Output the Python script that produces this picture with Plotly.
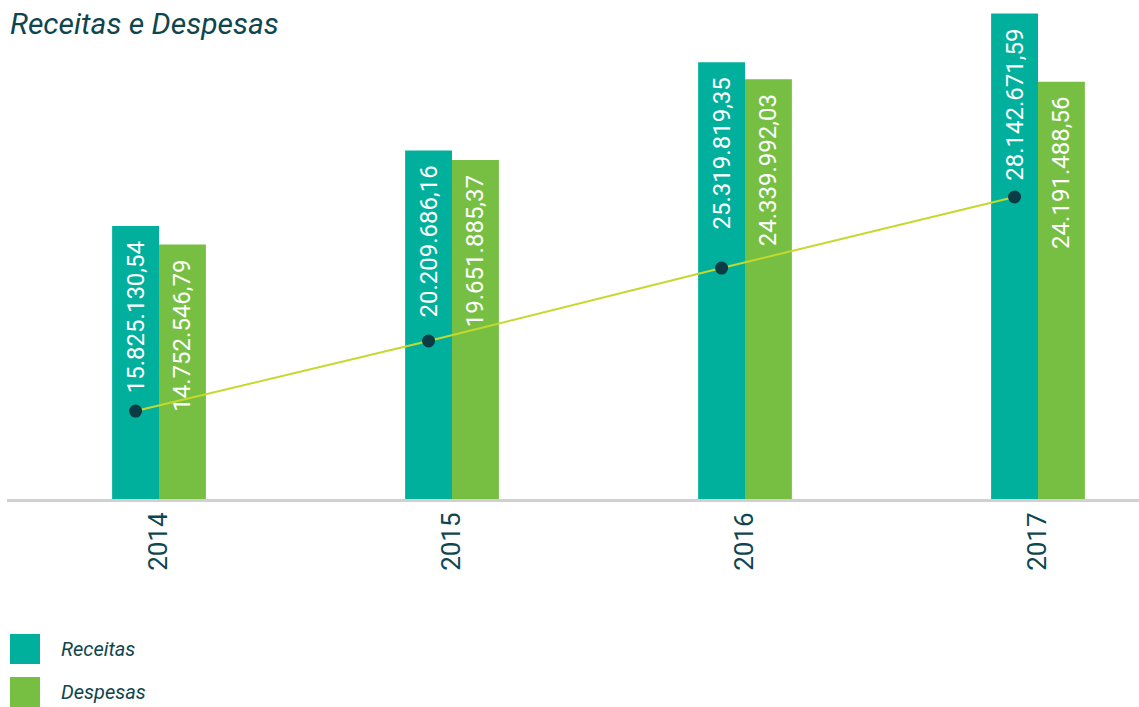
import plotly.graph_objects as go

anos = ["2014", "2015", "2016", "2017"]
receitas = [15825130.54, 20209686.16, 25319819.35, 28142671.59]
despesas = [14752546.79, 19651885.37, 24339992.03, 24191488.56]
receitas_txt = ["15.825.130,54", "20.209.686,16", "25.319.819,35", "28.142.671,59"]
despesas_txt = ["14.752.546,79", "19.651.885,37", "24.339.992,03", "24.191.488,56"]
linha = [5100000, 9160000, 13390000, 17510000]

C_REC = "#00AF9C"
C_DES = "#77BF43"
C_LINE = "#C5D82D"
C_DOT = "#0B3B45"
C_TXT = "#0E4650"

idx = list(range(len(anos)))
bw = 0.16

fig = go.Figure()
fig.add_trace(go.Bar(
    x=idx, y=receitas, width=bw, offset=-bw, marker=dict(color=C_REC, line=dict(width=0)),
    text=receitas_txt, texttemplate="%{text}\u00a0\u00a0", textposition="inside",
    insidetextanchor="end", textangle=-90, constraintext="none",
    textfont=dict(family="Roboto", size=24, color="white"), name="Receitas", showlegend=False,
))
fig.add_trace(go.Bar(
    x=idx, y=despesas, width=bw, offset=0, marker=dict(color=C_DES, line=dict(width=0)),
    text=despesas_txt, texttemplate="%{text}\u00a0\u00a0", textposition="inside",
    insidetextanchor="end", textangle=-90, constraintext="none",
    textfont=dict(family="Roboto", size=24, color="white"), name="Despesas", showlegend=False,
))
fig.add_trace(go.Scatter(
    x=[i - bw / 2 for i in idx], y=linha, mode="lines+markers",
    line=dict(color=C_LINE, width=2), marker=dict(color=C_DOT, size=13),
    showlegend=False, hoverinfo="skip",
))

px_h = 707
plot_bottom = 499
plot_top = 5
def py(p):
    return (plot_bottom - p) / (plot_bottom - plot_top)

shapes = []
annotations = []
for label, color, top, cy in [("Receitas", C_REC, 634, 649), ("Despesas", C_DES, 677, 692)]:
    shapes.append(dict(type="rect", xref="paper", yref="paper",
                       x0=(10 - 7) / 1132, x1=(40 - 7) / 1132, y0=py(top + 30), y1=py(top),
                       fillcolor=color, line=dict(width=0)))
    annotations.append(dict(text="<i>" + label + "</i>", xref="paper", yref="paper",
                            x=(59 - 7) / 1132, y=py(cy), xanchor="left", yanchor="middle",
                            showarrow=False, font=dict(family="Roboto", size=20, color=C_TXT)))

annotations.append(dict(text="<i>Receitas e Despesas</i>", xref="paper", yref="paper",
                        x=(8 - 7) / 1132, y=py(24), xanchor="left", yanchor="middle",
                        showarrow=False, font=dict(family="Roboto", size=30, color=C_TXT)))

fig.update_layout(
    width=1139, height=707,
    margin=dict(l=7, r=0, t=plot_top, b=px_h - plot_bottom),
    paper_bgcolor="white", plot_bgcolor="white",
    shapes=shapes, annotations=annotations,
    xaxis=dict(range=[-0.5188, 3.3447], tickvals=idx, ticktext=anos, tickangle=-90,
               showgrid=False, zeroline=False, showline=True, linecolor="#D0D0D0", linewidth=3,
               ticks="", tickfont=dict(family="Roboto", size=26, color=C_TXT), fixedrange=True),
    yaxis=dict(range=[0, 28640000], visible=False, showgrid=False, zeroline=False, fixedrange=True),
    showlegend=False,
)

fig.write_html("out.html")
